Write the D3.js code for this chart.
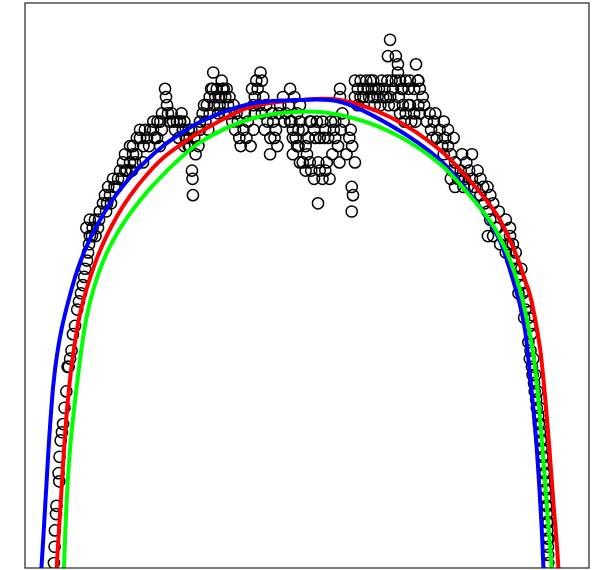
<!DOCTYPE html>
<html>
<head>
<meta charset="utf-8">
<script src="https://cdn.jsdelivr.net/npm/d3@7"></script>
<style>
  html, body { margin: 0; padding: 0; background: #fff; }
  svg { display: block; }
</style>
</head>
<body>
<div id="chart"></div>
<script>
// Observations: [day, level]
const observations = [
  // rising limb
  [20.5,0],[21,2],[21.2,4],[22,6],[22.3,7],[24.3,10],[23.8,11],[24.5,13],[25.3,15],[26.2,16],[27,17],[28,19],[29.3,21],[30.2,24],[31,24],[32,25],[33,26],[34,28],[35.5,29],[37,31],[38.3,32],[39.7,33],[41,34],[42,35],[42.6,36],[44,37],[44.7,38],[45.4,39],[46,40],[47.5,40],
  [43.5,41],[46,42],[48,41],[49.6,42],[51.8,41],[50,40],[52.5,42],
  [53,43],[55.3,44],[56.7,45],[58.2,44],[60.3,45],[57.5,43],[59,46],[61,44],
  [62.4,47],[65.2,46],[67.4,48],[69.5,49],[70.9,50],[74.5,49],[75.9,48],[66,47],[72,48],[63.5,46],[68.5,47],[71,48],[83.7,49],[78,49],
  [76.6,51],[79.4,52],[81.6,52],[86.5,52],[88.7,53],[90.8,53],[93.6,52],[95.7,51],[81.6,53],[84,51],[74.5,51],[76.6,50],[79,50],[91,54],[94,54],[97,53],[88,51],[85,53],[92,52],[96,54],
  [99.3,58],[100,57],[100.7,56],[101.4,55],[97.2,55],[102.8,54],[104,55],[106.4,53],[107.8,54],[109.9,54],[112,53],[109,52],[114.9,52],[117,51],[113,51],[105,54],[111,55],
  [118.4,48],[118.8,47],[119.1,45],
  // second hump
  [110,54],[112,53],[113,54],[114,52],[116,51],[118,53],[120,52],[121,50],[123,51],[116,53],
  [124,53],[126,55],[128,54],[130,53],[131,55],[124.1,54],[127,56],
  [129,56],[131,57],[133,58],[133.5,60],[135,57],[136,58],[138,56],[139.5,59],[140,58],[142,57],[143,58],[144,56],[145,57],[137,55],[141,55],[134,56],[137.5,57],[141,58],[132,58],[139,57],
  [145,55],[147,54],[149,53],[151,54],[152,52],[153,51],[155,53],[157,52],[158,54],[160,51],[162,53],[163,55],[150,55],[156,55],[148,56],
  [161,58],[163,57],[165,58],[167,60],[168,59],[169,57],[166,56],[164,59],[162,56],
  [168,55],[170,53],[172,54],[173.8,50],[174,52],[176,54],[178,53],[180,55],[179,51],[171,56],[175,55],[177,52],
  [188,58],
  [181,56],[183,57],[185,55],[187,56],[189,54],[191,57],[193,55],[195,56],[184,54],
  [190,52],[193,51],[195,49],[194,53],
  // middle of the season
  [188,54],[190,53],[192,52],[195,54],[197,53],[199,51],[201,52],[202,54],
  [190,50],[194,51],[197,49],[200,50],[202,49],
  [203,54],[205,53],[207,54],[209,52],[211,54],[213,53],[215,52],[217,54],[219,53],[220,54],[206,52],[212,52],
  [199,48],[203,48],[205,47],[208,49],[211,47],[213,48],[216,47],[214,49],[209,48],
  [218,50],[220,52],[222,51],[224,53],[226,54],[228,50],[230,52],[232,51],[234,49],[223,49],[225,55],[231,53],
  [223.4,58],[223.4,57],
  [207.8,44],
  [231.7,46],[232.6,45],[231.7,43],
  [234,59],[236,58],[238,59],[240,58],[242,59],[244,57],[246,58],[248,56],[250,57],[236,56],[240,57],[245,59],[251,58],[238,57],[243,58],[247,59],[249,58],[234,57],
  [253,59],[255,58],[257,59],[259,57],[261,58],[263,59],[265,57],[267,58],[254,57],[260,59],
  [258.9,64],[257.4,62],[263,62],[264.5,61],[264.5,60],[277.3,61],
  [258,56],[262,56],
  [268,56],[270,55],[272,56],[274,54],[276,55],[279,56],
  [247,57],[252,56],[256,57],
  [273,59],[276,58],[279,59],
  // falling limb
  [266,59],[268,58],[270,59],[272,58],[280,58],[278.7,59],
  [266,55],[269,54],[273,56],[277,54],[280,55],[283,56],[285,54],[287,55],[282,57],
  [288,53],[290,54],[292,52],[294,53],[296,51],[298,52],[300,53],[291,55],[297,54],[289,52],
  [297,50],[300,51],[302,50],[304,52],
  [303,48],[305,49],[307,47],[309,48],[311,46],[313,49],[315,48],[317,47],[317,50],[319,46],[321,48],[323,47],[325,46],[310,50],[312,47],[314,46],
  [302,47],[305,46],[308,47],
  [323,45],[326,44],[328,46],[330,45],
  [328,43],[330,42],[332,44],[334,41],[336,43],
  [328.3,40],
  [332,40],[335,41],[337,39],[339,40],[341,38],[343,39],[344,41],
  [341,42],[344,40],[345,37],[347,36],[348,38],[346,39],
  [349,35],[351,34],[352,36],[353,33],[350,33],
  [355,31],[356,32],[357,30],[358,29],[359,28],[354,30],
  [357,27],[358.5,26],[358,25],[359.5,24],[360,23],[361,22],[361.5,21],[362.5,20],[363,19],[364,18],[364.5,17],[365.2,16],[365.8,15],[366.4,14],[367,13],[367.4,12],[368,11],[368.3,10],[368.8,9],[369.2,8],[369.6,7],[370,6],[370.2,5],[370.5,4],[370.6,3],[370.9,2],[371,1],[371.1,0],
  [360.5,25],[362,23],[363.5,21],[365,19],[366,17],[367.2,15],[368,13],[369,11],[369.5,9],[370.5,7],[371.2,5],[371.5,3]
];

// Fitted curves: [day, level]
const fitBlue = [
  [11.35,-2.07],[11.70,-0.48],[13.33,4.05],[15.39,10.16],[17.38,15.79],[20.07,21.78],[22.69,25.45],[26.24,28.87],[31.91,32.79],[36.88,35.72],[42.55,38.29],[50.35,41.10],[62.41,44.52],[74.47,47.16],[86.52,49.30],[97.87,51.01],[109.93,52.48],[124.11,53.95],[159.57,56.15],[195.03,56.64],[223.40,56.43],[258.87,53.58],[294.33,49.30],[313.26,45.63],[322.70,43.54],[329.79,41.59],[336.88,39.39],[343.97,35.84],[351.06,31.56],[354.61,28.51],[357.44,24.23],[360.28,19.33],[362.77,14.44],[364.89,8.94],[366.52,4.04],[367.66,-0.48],[367.94,-2.07]
];
const fitRed = [
  [22.00,-2.07],[22.48,-0.48],[24.11,4.05],[25.89,8.94],[27.66,13.83],[29.79,18.72],[32.27,23.00],[35.11,26.67],[39.01,30.46],[44.68,34.10],[51.06,37.30],[58.16,40.11],[65.96,42.64],[74.47,44.91],[86.52,47.52],[97.87,49.55],[109.93,51.12],[124.11,52.71],[159.57,55.77],[195.03,56.64],[223.40,56.64],[258.87,54.56],[294.33,50.52],[313.26,47.22],[329.79,43.79],[336.88,41.96],[348.94,37.43],[354.61,34.62],[358.16,32.79],[361.70,29.97],[365.25,26.30],[368.09,21.78],[370.57,16.89],[373.05,11.38],[375.18,6.49],[376.95,2.82],[378.23,-0.48],[378.58,-2.07]
];
const fitGreen = [
  [27.45,-2.07],[27.66,-0.48],[29.08,5.88],[30.85,11.38],[32.62,15.29],[34.75,18.72],[37.59,22.88],[40.43,26.67],[43.97,30.34],[48.23,33.28],[53.19,35.93],[58.87,38.24],[65.25,40.31],[72.34,42.23],[80.14,44.04],[88.65,45.79],[97.87,47.49],[109.93,49.47],[124.11,51.45],[159.57,54.31],[195.03,55.21],[223.40,54.80],[258.87,52.76],[294.33,48.81],[313.26,45.39],[329.79,41.84],[336.88,39.76],[343.97,37.07],[351.06,33.40],[356.03,29.73],[360.28,25.82],[363.12,21.78],[365.96,16.28],[368.44,10.77],[370.57,5.88],[372.34,2.21],[373.40,-0.48],[373.76,-2.07]
];

const width = 596, height = 570;
const plot = { left: 25, right: 589, top: 3, bottom: 568 };

const x = d3.scaleLinear().domain([0, 400]).range([plot.left, plot.right]);
const y = d3.scaleLinear().domain([-0.6, 68.5]).range([plot.bottom, plot.top]);

const svg = d3.select("#chart").append("svg")
  .attr("width", width).attr("height", height);

svg.append("defs").append("clipPath").attr("id", "plot-clip")
  .append("rect")
  .attr("x", plot.left).attr("y", plot.top)
  .attr("width", plot.right - plot.left).attr("height", plot.bottom - plot.top);

const g = svg.append("g").attr("clip-path", "url(#plot-clip)");

g.selectAll("circle.obs").data(observations).join("circle")
  .attr("class", "obs")
  .attr("cx", d => x(d[0]))
  .attr("cy", d => y(d[1]))
  .attr("r", 5.6)
  .attr("fill", "none")
  .attr("stroke", "#000")
  .attr("stroke-width", 1.5);

const line = d3.line()
  .x(d => x(d[0]))
  .y(d => y(d[1]))
  .curve(d3.curveCatmullRom.alpha(0.5));

[[fitRed, "#ff0000"], [fitBlue, "#0000ff"], [fitGreen, "#00ff00"]].forEach(([pts, col]) => {
  g.append("path")
    .datum(pts)
    .attr("d", line)
    .attr("fill", "none")
    .attr("stroke", col)
    .attr("stroke-width", 4);
});

svg.append("rect")
  .attr("x", plot.left).attr("y", plot.top)
  .attr("width", plot.right - plot.left).attr("height", plot.bottom - plot.top)
  .attr("fill", "none")
  .attr("stroke", "#222")
  .attr("stroke-width", 1.2);
</script>
</body>
</html>
